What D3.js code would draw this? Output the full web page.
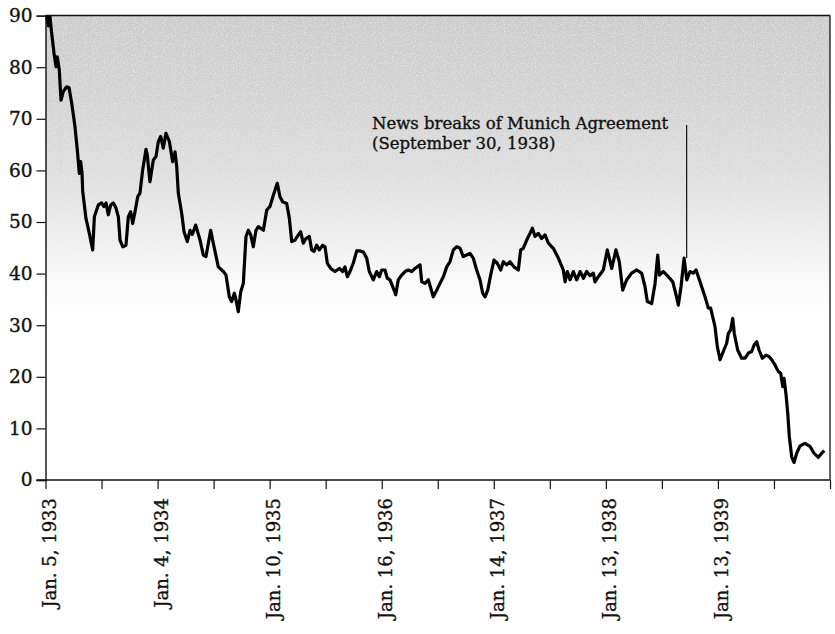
<!DOCTYPE html>
<html><head><meta charset="utf-8">
<script src="https://cdn.jsdelivr.net/npm/d3@7"></script>
<style>
html,body{margin:0;padding:0;background:#fff;}
svg text{font-family:"DejaVu Serif","Liberation Serif",serif;fill:#111;stroke:#111;stroke-width:0.35px;}
</style></head>
<body>
<svg id="chart" width="835" height="634"></svg>
<script>
// ---- data ----
// time in years since Jan. 5, 1933
const years = [0.000,0.012,0.025,0.040,0.055,0.076,0.094,0.105,0.123,0.138,0.159,0.189,0.210,0.234,0.263,0.284,0.302,0.314,0.326,0.332,0.361,0.391,0.421,0.436,0.471,0.501,0.522,0.540,0.560,0.582,0.605,0.629,0.650,0.665,0.689,0.718,0.739,0.760,0.778,0.799,0.823,0.843,0.867,0.897,0.908,0.932,0.962,0.986,1.007,1.028,1.051,1.075,1.105,1.135,1.156,1.171,1.185,1.215,1.236,1.265,1.290,1.310,1.340,1.379,1.408,1.432,1.474,1.497,1.542,1.587,1.611,1.640,1.661,1.685,1.700,1.720,1.742,1.765,1.789,1.810,1.831,1.854,1.878,1.899,1.944,1.974,2.003,2.033,2.068,2.092,2.117,2.152,2.176,2.197,2.226,2.247,2.277,2.300,2.324,2.354,2.375,2.396,2.420,2.443,2.473,2.494,2.515,2.545,2.583,2.622,2.652,2.672,2.693,2.717,2.746,2.777,2.806,2.836,2.866,2.889,2.925,2.955,2.979,3.000,3.029,3.050,3.074,3.103,3.125,3.148,3.178,3.208,3.237,3.268,3.297,3.342,3.357,3.386,3.416,3.437,3.460,3.491,3.520,3.550,3.580,3.609,3.639,3.669,3.699,3.728,3.758,3.788,3.817,3.847,3.877,3.901,3.922,3.946,3.972,4.002,4.031,4.062,4.085,4.115,4.145,4.180,4.219,4.240,4.263,4.294,4.323,4.344,4.368,4.397,4.428,4.457,4.487,4.531,4.576,4.620,4.636,4.656,4.680,4.710,4.740,4.770,4.800,4.829,4.859,4.888,4.903,4.933,4.977,5.013,5.052,5.090,5.120,5.150,5.186,5.230,5.275,5.319,5.349,5.370,5.409,5.439,5.463,5.478,5.513,5.558,5.597,5.626,5.647,5.671,5.698,5.722,5.751,5.780,5.805,5.840,5.885,5.914,5.935,5.974,5.995,6.019,6.048,6.078,6.093,6.114,6.132,6.146,6.176,6.212,6.242,6.272,6.301,6.324,6.346,6.367,6.396,6.429,6.458,6.480,6.509,6.539,6.560,6.578,6.590,6.608,6.623,6.637,6.658,6.679,6.703,6.733,6.777,6.822,6.857,6.896,6.926,6.949];
const values = [89.0,90.5,88.0,89.8,86.6,82.7,80.1,82.0,79.5,73.6,75.3,76.2,76.0,73.0,68.5,63.9,59.4,61.7,59.4,55.9,50.7,47.8,44.6,51.0,53.3,53.7,53.0,53.7,51.4,53.3,53.7,52.7,51.0,46.5,45.2,45.5,51.0,52.0,49.7,52.0,54.9,55.6,60.1,64.1,63.0,57.8,62.0,62.7,65.6,66.6,64.3,67.2,65.6,61.7,63.6,60.7,55.6,51.7,48.1,46.2,48.4,47.6,49.4,46.5,43.6,43.3,48.4,45.9,41.3,40.4,39.7,35.5,34.6,36.2,34.9,32.6,36.5,38.1,47.2,48.4,47.5,45.2,48.4,49.1,48.4,52.3,53.0,55.2,57.5,54.9,53.9,53.6,50.7,46.2,46.5,47.2,48.1,45.9,46.8,47.2,44.6,44.3,45.5,44.6,45.5,45.2,42.0,41.0,40.4,41.0,40.4,41.3,39.4,40.4,42.0,44.4,44.4,44.2,43.0,40.4,38.8,40.4,39.4,40.7,40.7,39.1,38.8,37.2,35.9,38.8,39.7,40.4,40.7,40.4,41.0,41.7,38.4,38.1,38.8,37.2,35.5,36.8,38.1,39.4,41.3,42.3,44.6,45.2,44.9,43.3,43.6,43.9,43.0,40.7,38.8,36.2,35.5,36.8,39.7,42.6,42.0,40.7,42.3,41.7,42.3,41.3,40.7,44.6,44.9,46.5,47.8,48.8,47.2,47.8,46.8,47.5,45.9,44.9,43.0,40.7,38.4,40.4,38.8,40.4,38.8,40.4,39.1,40.4,39.6,40.1,38.4,39.4,40.7,44.6,41.0,44.6,42.3,36.8,38.8,40.1,40.7,40.1,37.5,34.6,34.2,38.1,43.6,39.7,40.4,39.4,38.4,35.9,33.9,37.5,43.0,38.8,40.4,40.1,40.7,38.4,35.5,33.3,33.3,29.7,25.8,23.3,24.9,26.5,28.4,29.1,31.3,28.4,25.2,23.6,23.6,24.6,24.9,26.2,26.8,25.2,23.6,24.2,23.9,23.3,22.3,21.0,20.7,18.1,19.7,16.5,12.9,8.4,4.5,3.4,5.2,6.6,7.1,6.5,5.2,4.4,5.2,5.7];
const yTicks = [0,10,20,30,40,50,60,70,80,90];
const xTicks = [0,0.5,1,1.5,2,2.5,3,3.5,4,4.5,5,5.5,6,6.5,7];
const xLabelPos = [0,1,2,3,4,5,6];
const xLabels = ["Jan. 5, 1933","Jan. 4, 1934","Jan. 10, 1935","Jan. 16, 1936","Jan. 14, 1937","Jan. 13, 1938","Jan. 13, 1939"];
const annotYear = 5.712;          // September 30, 1938
const annotRange = [43.0, 68.8];
const annotLines = ["News breaks of Munich Agreement","(September 30, 1938)"];

// ---- layout ----
const L = 45.5, R = 830, T = 15.6, B = 480;
const svg = d3.select("#chart");
const x = d3.scaleLinear().domain([0,7]).range([L,R]);
const y = d3.scaleLinear().domain([0,90]).range([B,T]);

const defs = svg.append("defs");
const grad = defs.append("linearGradient").attr("id","bg").attr("x1",0).attr("y1",0).attr("x2",0).attr("y2",1);
[[0,"#cbcbcb"],[0.18,"#d2d2d2"],[0.34,"#dedede"],[0.46,"#ececec"],[0.56,"#f8f8f8"],[0.64,"#ffffff"]]
  .forEach(([o,c])=>grad.append("stop").attr("offset",o).attr("stop-color",c));
// stipple grain
const f = defs.append("filter").attr("id","grain").attr("x",0).attr("y",0).attr("width",1).attr("height",1);
f.append("feTurbulence").attr("type","fractalNoise").attr("baseFrequency",0.9).attr("numOctaves",1).attr("seed",3).attr("result","n");
f.append("feColorMatrix").attr("in","n").attr("type","matrix")
  .attr("values","0 0 0 0 1  0 0 0 0 1  0 0 0 0 1  -3 0 0 0 1.6");
const mgrad = defs.append("linearGradient").attr("id","mg").attr("x1",0).attr("y1",0).attr("x2",0).attr("y2",1);
[[0,"#ffffff"],[0.4,"#aaaaaa"],[0.62,"#000000"]].forEach(([o,c])=>mgrad.append("stop").attr("offset",o).attr("stop-color",c));
defs.append("mask").attr("id","fade").append("rect")
  .attr("x",L).attr("y",T).attr("width",R-L).attr("height",B-T).attr("fill","url(#mg)");
defs.append("clipPath").attr("id","clip").append("rect")
  .attr("x",L).attr("y",T).attr("width",R-L).attr("height",B-T);

svg.append("rect").attr("x",L).attr("y",T).attr("width",R-L).attr("height",B-T).attr("fill","url(#bg)");
svg.append("g").attr("mask","url(#fade)").append("rect")
  .attr("x",L).attr("y",T).attr("width",R-L).attr("height",B-T)
  .attr("filter","url(#grain)").attr("opacity",0.55);

// frame (top and right)
svg.append("line").attr("x1",L).attr("x2",R).attr("y1",T).attr("y2",T).attr("stroke","#111").attr("stroke-width",1.5);
svg.append("line").attr("x1",R).attr("x2",R).attr("y1",T).attr("y2",B).attr("stroke","#111").attr("stroke-width",1.3);

// axes
const yAxis = d3.axisLeft(y).tickValues(yTicks).tickSize(9).tickPadding(4);
const gy = svg.append("g").attr("transform",`translate(${L},0)`).call(yAxis);
gy.select(".domain").attr("stroke","#111").attr("stroke-width",1.4);
gy.selectAll(".tick line").attr("stroke","#111").attr("stroke-width",1.2);
gy.selectAll(".tick text").attr("font-size",18.5).attr("fill","#111")
  .style("font-family",'"DejaVu Serif",serif');

const xAxis = d3.axisBottom(x).tickValues(xTicks).tickSize(9).tickFormat("");
const gx = svg.append("g").attr("transform",`translate(0,${B})`).call(xAxis);
gx.select(".domain").attr("stroke","#111").attr("stroke-width",1.4).attr("d",`M${L-9},0H${R}`);
gx.selectAll(".tick line").attr("stroke","#111").attr("stroke-width",1.2);

svg.append("g").selectAll("text").data(xLabelPos).join("text")
  .attr("transform",d=>`translate(${x(d)},498) rotate(-90)`)
  .attr("text-anchor","end").attr("dy",10)
  .attr("font-size",18)
  .text((d,i)=>xLabels[i]);

// annotation
svg.append("line").attr("x1",x(annotYear)+1).attr("x2",x(annotYear)+1)
  .attr("y1",y(annotRange[1])).attr("y2",y(annotRange[0]))
  .attr("stroke","#111").attr("stroke-width",1.2);
svg.append("g").selectAll("text").data(annotLines).join("text")
  .attr("x",372).attr("y",(d,i)=>129+i*20)
  .attr("font-size",16.5)
  .text(d=>d);

// data line
const line = d3.line().x((d,i)=>x(years[i])).y(d=>y(d));
svg.append("path").datum(values)
  .attr("clip-path","url(#clip)")
  .attr("fill","none").attr("stroke","#000").attr("stroke-width",3.2)
  .attr("stroke-linejoin","round")
  .attr("d",line);
</script>
</body></html>
